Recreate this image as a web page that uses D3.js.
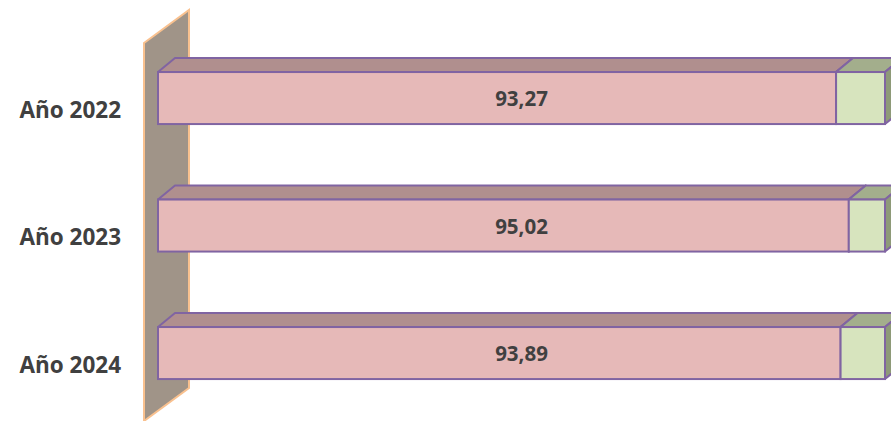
<!DOCTYPE html>
<html>
<head>
<meta charset="utf-8">
<script src="https://cdn.jsdelivr.net/npm/d3@7"></script>
<style>
html,body{margin:0;padding:0;background:#fff;}
svg{display:block;}
text{font-family:"Open Sans","Liberation Sans",sans-serif;font-weight:700;fill:#404040;}
</style>
</head>
<body>
<svg id="chart" width="891" height="421"></svg>
<script>
const categories = ["Año 2022", "Año 2023", "Año 2024"];
const mainValues = [93.27, 95.02, 93.89];
const restValues = [6.73, 4.98, 6.11];
const valueLabels = ["93,27", "95,02", "93,89"];
const xDomain = [0, 100];

const W = 891, H = 421;
const svg = d3.select("#chart");

const x = d3.scaleLinear().domain(xDomain).range([158, 885]);
const y = d3.scaleBand().domain(categories).range([34.3, 416.8]).paddingInner(0.592).paddingOuter(0.296);

const dx = 17, dy = -14;       // bar depth
const wdx = 45, wdy = -33;     // wall depth
const border = "#8064A2";
const sw = 2;

// wall
const wallX = 144, wallTop = 43, wallBottom = 421;
svg.append("path")
  .attr("d", `M${wallX},${wallTop} L${wallX+wdx},${wallTop+wdy} L${wallX+wdx},${wallBottom+wdy} L${wallX},${wallBottom} Z`)
  .attr("fill", "#A09488")
  .attr("stroke", "#F9C18F")
  .attr("stroke-width", 2);

function box(g, x0, x1, y0, h, front, top, side) {
  g.append("path")
    .attr("d", `M${x0},${y0} L${x0+dx},${y0+dy} L${x1+dx},${y0+dy} L${x1},${y0} Z`)
    .attr("fill", top).attr("stroke", border).attr("stroke-width", sw).attr("stroke-linejoin", "round");
  g.append("path")
    .attr("d", `M${x1},${y0} L${x1+dx},${y0+dy} L${x1+dx},${y0+h+dy} L${x1},${y0+h} Z`)
    .attr("fill", side).attr("stroke", border).attr("stroke-width", sw).attr("stroke-linejoin", "round");
  g.append("rect")
    .attr("x", x0).attr("y", y0).attr("width", x1 - x0).attr("height", h)
    .attr("fill", front).attr("stroke", border).attr("stroke-width", sw);
}

categories.forEach((c, i) => {
  const g = svg.append("g");
  const y0 = y(c), h = y.bandwidth();
  const a = x(0), b = x(mainValues[i]), e = x(mainValues[i] + restValues[i]);
  box(g, a, b, y0, h, "#E6B9B8", "#B08F8E", "#A88A89");
  box(g, b, e, y0, h, "#D7E4BE", "#A3AE8C", "#8E9A78");
  g.append("text")
    .attr("x", x(50)).attr("y", y0 + h / 2)
    .attr("text-anchor", "middle").attr("dominant-baseline", "central")
    .attr("font-size", 20.5)
    .text(valueLabels[i]);
  g.append("text")
    .attr("x", 121).attr("y", y0 + h / 2 + 11)
    .attr("text-anchor", "end").attr("dominant-baseline", "central")
    .attr("font-size", 22.5)
    .text(c);
});
</script>
</body>
</html>
